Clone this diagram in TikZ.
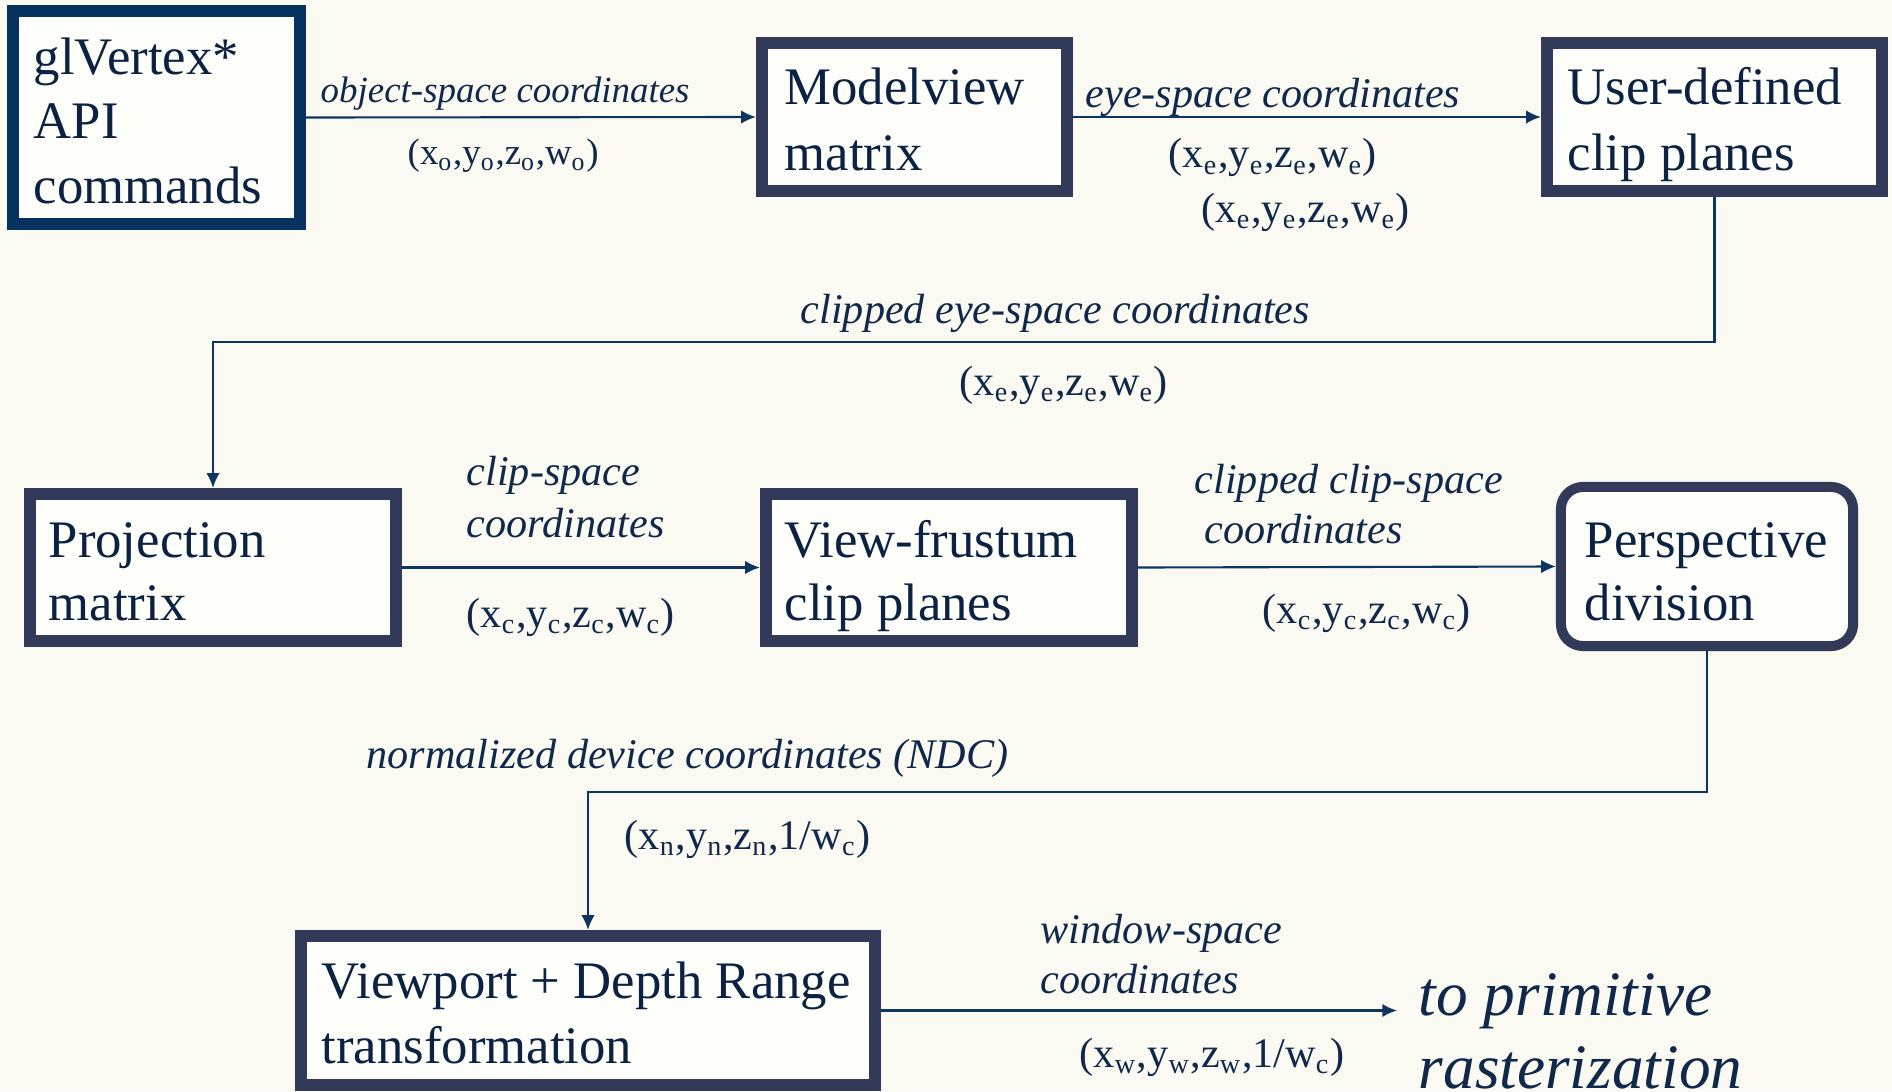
\documentclass[tikz,border=0pt]{standalone}
\usepackage{fontspec}
\setmainfont{Liberation Serif}
\usetikzlibrary{arrows.meta}
\definecolor{bg}{HTML}{FAFAF3}
\definecolor{boxA}{HTML}{05325E}
\definecolor{boxB}{HTML}{323A5A}
\definecolor{ink}{HTML}{0B2242}
\definecolor{lab}{HTML}{10294A}
\definecolor{arr}{HTML}{0C355F}
\newcommand\sbs[1]{\textsubscript{#1}}
\begin{document}
\begin{tikzpicture}[x=0.01cm,y=-0.01cm,
  boxnode/.style={draw=boxB, line width=3.41pt, fill=white!60!bg, inner sep=0pt},
  boxtext/.style={anchor=base west, inner sep=0pt, text=ink, font=\fontsize{15}{18}\selectfont},
  labit/.style={anchor=base west, inner sep=0pt, text=lab, font=\fontsize{12}{14}\selectfont\itshape},
  labtup/.style={anchor=base west, inner sep=0pt, text=lab, font=\fontsize{12}{14}\selectfont},
  conn/.style={draw=arr, line width=0.6pt, -{Latex[length=4.2pt,width=3.8pt]}}]
\path[fill=bg] (0,0) rectangle (1892,1091);
\useasboundingbox (0,0) rectangle (1892,1091);

% boxes
\node[boxnode, draw=boxA, minimum width=2.87cm, minimum height=2.13cm] (g1) at (156.5,117.5) {};
\node[boxnode, minimum width=3.05cm, minimum height=1.48cm] (mv) at (914.5,117) {};
\node[boxnode, minimum width=3.35cm, minimum height=1.48cm] (ud) at (1714.5,117) {};
\node[boxnode, minimum width=3.66cm, minimum height=1.47cm] (proj) at (213,567.5) {};
\node[boxnode, minimum width=3.66cm, minimum height=1.47cm] (vf) at (949,567.5) {};
\node[boxnode, line width=2.85pt, rounded corners=0.22cm, minimum width=2.92cm, minimum height=1.59cm] (pd) at (1707,566.5) {};
\node[boxnode, minimum width=5.74cm, minimum height=1.49cm] (vp) at (588,1010.5) {};

% box texts
\node[boxtext] (g1a) at (33,75) {glVertex*};
\node[boxtext] (g1b) at (33,139) {API};
\node[boxtext] (g1c) at (33,203) {commands};
\node[boxtext] (mva) at (784,105) {Modelview};
\node[boxtext] (mvb) at (784,170) {matrix};
\node[boxtext] (uda) at (1567,105) {User-defined};
\node[boxtext] (udb) at (1567,170) {clip planes};
\node[boxtext] (pja) at (48,557) {Projection};
\node[boxtext] (pjb) at (48,620) {matrix};
\node[boxtext] (vfa) at (784,557) {View-frustum};
\node[boxtext] (vfb) at (784,620) {clip planes};
\node[boxtext] (pda) at (1584,557) {Perspective};
\node[boxtext] (pdb) at (1584,620) {division};
\node[boxtext] (vpa) at (321,998) {Viewport + Depth Range};
\node[boxtext] (vpb) at (321,1063) {transformation};

% connectors
\coordinate (k1) at (900,342);
\coordinate (k2) at (900,792);
\coordinate (tgt) at (1397,1010.5);
\draw[conn] (g1.east) -- (mv.west);
\draw[conn] (mv.east) -- (ud.west);
\draw[conn] (ud.south) |- (k1) -| (proj.north);
\draw[conn] (proj.east) -- (vf.west);
\draw[conn] (vf.east) -- (pd.west);
\draw[conn] (pd.south) |- (k2) -| (vp.north);
\draw[conn] (vp.east) -- (tgt);

% labels
\node[labit, font=\fontsize{10.5}{12}\selectfont\itshape] (l1) at (320,103) {object-space coordinates};
\node[labtup, font=\fontsize{10.5}{12}\selectfont] (t1) at (407,165) {(x\sbs{o},y\sbs{o},z\sbs{o},w\sbs{o})};
\node[labit] (l2) at (1085,108) {eye-space coordinates};
\node[labtup] (t2a) at (1168,168) {(x\sbs{e},y\sbs{e},z\sbs{e},w\sbs{e})};
\node[labtup] (t2b) at (1201,222) {(x\sbs{e},y\sbs{e},z\sbs{e},w\sbs{e})};
\node[labit] (l3) at (800,323) {clipped eye-space coordinates};
\node[labtup] (t3) at (959,395) {(x\sbs{e},y\sbs{e},z\sbs{e},w\sbs{e})};
\node[labit] (l4a) at (466,485) {clip-space};
\node[labit] (l4b) at (466,537) {coordinates};
\node[labtup] (t4) at (466,627) {(x\sbs{c},y\sbs{c},z\sbs{c},w\sbs{c})};
\node[labit] (l5a) at (1194,493) {clipped clip-space};
\node[labit] (l5b) at (1204,543) {coordinates};
\node[labtup] (t5) at (1262,623) {(x\sbs{c},y\sbs{c},z\sbs{c},w\sbs{c})};
\node[labit] (l6) at (366,768) {normalized device coordinates (NDC)};
\node[labtup] (t6) at (624,849) {(x\sbs{n},y\sbs{n},z\sbs{n},1/w\sbs{c})};
\node[labit] (l7a) at (1040,943) {window-space};
\node[labit] (l7b) at (1040,993) {coordinates};
\node[labtup] (t7) at (1079,1067) {(x\sbs{w},y\sbs{w},z\sbs{w},1/w\sbs{c})};
\node[labit, font=\fontsize{18}{21}\selectfont\itshape] (ra) at (1418,1015) {to primitive};
\node[labit, font=\fontsize{18}{21}\selectfont\itshape] (rb) at (1418,1088) {rasterization};
\end{tikzpicture}
\end{document}
